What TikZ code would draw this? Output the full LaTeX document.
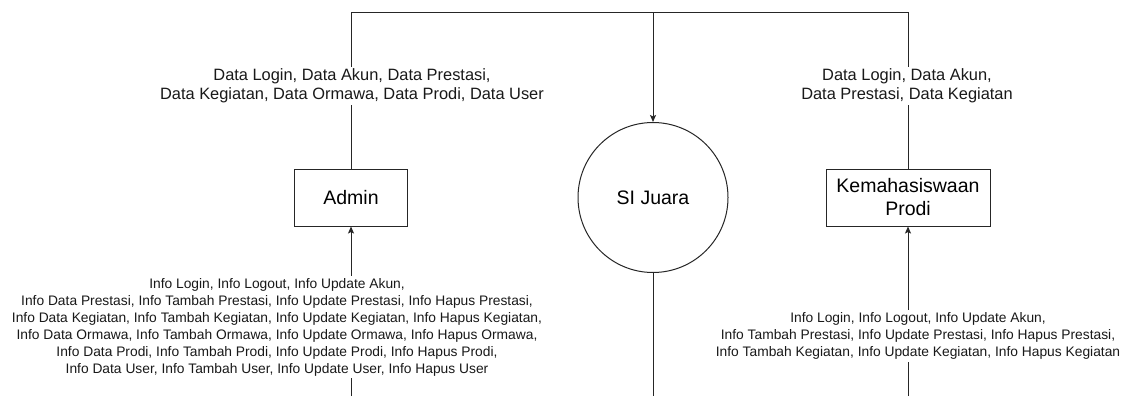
\documentclass[tikz,border=0pt]{standalone}
\usepackage{fontspec}
\setmainfont{Liberation Sans}
\usetikzlibrary{arrows.meta}
\begin{document}
\begin{tikzpicture}[x=1pt,y=-1pt,
  flow/.style={draw=black!85, line width=1pt},
  arr/.style={flow, -{Stealth[length=7pt,width=6pt,inset=1.5pt]}},
  entity/.style={draw=black!85, line width=1pt, fill=white, inner sep=0pt, align=center, font=\fontsize{19.5}{23}\selectfont},
  proc/.style={draw=black!85, line width=1pt, circle, fill=white, inner sep=0pt, minimum size=150pt, font=\fontsize{19.5}{23}\selectfont},
  toplbl/.style={fill=white, inner sep=2pt, align=center, text=black!90, font=\fontsize{16.4}{18.9}\selectfont},
  botlbl/.style={fill=white, inner sep=2.5pt, align=center, text=black!90, font=\fontsize{13.8}{17}\selectfont}
]
\useasboundingbox (0,0) rectangle (1126,396);
\fill[white] (0,0) rectangle (1126,396);

\node[entity, minimum width=113pt, minimum height=57pt] (admin) at (351,197.5) {Admin};
\node[proc] (sij) at (653,197.5) {SI Juara};
\node[entity, minimum width=164pt, minimum height=57pt] (kema) at (908,197.5) {Kemahasiswaan\\Prodi};

\coordinate (j) at (653,12.5);
\coordinate (ab) at (351,396);
\coordinate (sb) at (653,396);
\coordinate (kb) at (908,396);

\draw[arr] (admin.north) |- (j) -- (sij.north);
\draw[flow] (kema.north) |- (j);
\draw[arr] (ab) -- (admin.south);
\draw[flow] (sij.south) -- (sb);
\draw[arr] (kb) -- (kema.south);

\node[toplbl] (l1) at (352,86) {Data Login, Data Akun, Data Prestasi,\\Data Kegiatan, Data Ormawa, Data Prodi, Data User};
\node[toplbl] (l2) at (907,86) {Data Login, Data Akun,\\Data Prestasi, Data Kegiatan};
\node[botlbl] (l3) at (277,327) {Info Login, Info Logout, Info Update Akun,\\Info Data Prestasi, Info Tambah Prestasi, Info Update Prestasi, Info Hapus Prestasi,\\Info Data Kegiatan, Info Tambah Kegiatan, Info Update Kegiatan, Info Hapus Kegiatan,\\Info Data Ormawa, Info Tambah Ormawa, Info Update Ormawa, Info Hapus Ormawa,\\Info Data Prodi, Info Tambah Prodi, Info Update Prodi, Info Hapus Prodi,\\Info Data User, Info Tambah User, Info Update User, Info Hapus User};
\node[botlbl] (l4) at (918,336) {Info Login, Info Logout, Info Update Akun,\\Info Tambah Prestasi, Info Update Prestasi, Info Hapus Prestasi,\\Info Tambah Kegiatan, Info Update Kegiatan, Info Hapus Kegiatan};
\end{tikzpicture}
\end{document}
